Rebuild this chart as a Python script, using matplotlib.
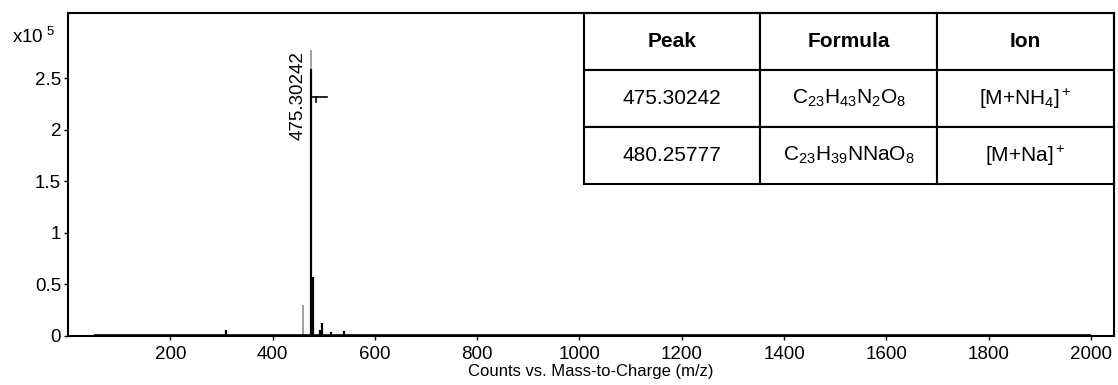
import matplotlib
matplotlib.use("Agg")
import matplotlib.pyplot as plt
from matplotlib.ticker import FuncFormatter

plt.rcParams['font.family'] = ['Liberation Sans', 'DejaVu Sans']
plt.rcParams['mathtext.fontset'] = 'custom'
plt.rcParams['mathtext.rm'] = 'Liberation Sans'
plt.rcParams['mathtext.it'] = 'Liberation Sans:italic'

# Stick spectrum (counts in units of 1e5)
peak_mz = [308, 418, 475.30242, 478.5, 492, 497, 515, 540]
peak_counts = [0.05, 0.01, 2.59, 0.57, 0.05, 0.12, 0.03, 0.04]
gray_mz = [460, 475.30242]
gray_counts = [0.30, 2.77]
baseline_range = [50, 2000]

label_mz = 475.30242
label_text = "475.30242"

x_ticks = [200, 400, 600, 800, 1000, 1200, 1400, 1600, 1800, 2000]
y_ticks = [0, 0.5, 1, 1.5, 2, 2.5]

table_rows = [
    ["Peak", "Formula", "Ion"],
    ["475.30242", r"C$_{23}$H$_{43}$N$_2$O$_8$", r"[M+NH$_4$]$^+$"],
    ["480.25777", r"C$_{23}$H$_{39}$NNaO$_8$", r"[M+Na]$^+$"],
]

fig = plt.figure(figsize=(11.18, 3.85), dpi=100)
ax = fig.add_axes([0.0608, 0.127, 0.9356, 0.839])

# gray traces drawn first, black sticks over them
ax.vlines(gray_mz, 0, gray_counts, color='#9a9a9a', lw=1.3)
ax.vlines(peak_mz, 0, peak_counts, color='black', lw=1.6)
ax.hlines(0, baseline_range[0], baseline_range[1], color='black', lw=2.6)

# peak label and marker
ax.text(label_mz - 8, 2.76, label_text, rotation=90, ha='right', va='top',
        fontsize=13.5)
ax.plot([label_mz, label_mz + 32], [2.32, 2.32], color='black', lw=1.2)
ax.plot([label_mz + 9, label_mz + 9], [2.32, 2.27], color='black', lw=1.2)

ax.set_xlim(0, 2045)
ax.set_ylim(-0.005, 3.13)
ax.set_xticks(x_ticks)
ax.set_yticks(y_ticks)
ax.yaxis.set_major_formatter(FuncFormatter(lambda v, p: "%g" % v))
ax.tick_params(axis='both', direction='out', length=3, width=1,
               labelsize=13.5, colors='black', pad=2)
ax.tick_params(axis='x', pad=4)
for s in ax.spines.values():
    s.set_linewidth(1.5)

ax.set_xlabel("Counts vs. Mass-to-Charge (m/z)", fontsize=12, labelpad=1)
fig.text(0.011, 0.905, r"x10$^{\ 5}$", fontsize=13.5, ha='left', va='center')

# result table, top right
tbl = ax.table(cellText=table_rows, cellLoc='center',
               bbox=[0.493, 0.47, 0.507, 0.53])
tbl.auto_set_font_size(False)
for (r, c), cell in tbl.get_celld().items():
    cell.set_linewidth(1.5)
    cell.set_edgecolor('black')
    cell.get_text().set_fontsize(15)
    if r == 0:
        cell.get_text().set_fontweight('bold')

fig.savefig("out.png", dpi=100)
